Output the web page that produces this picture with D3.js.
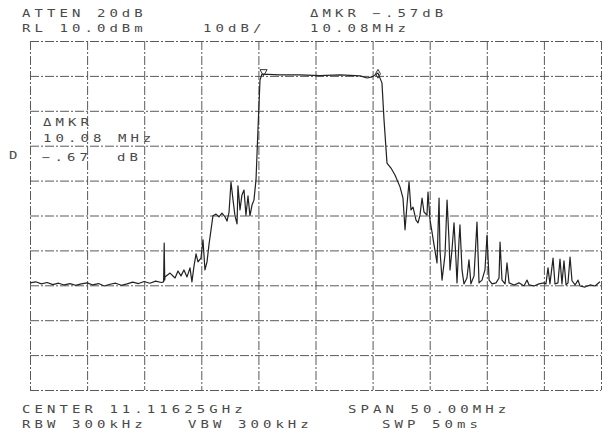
<!DOCTYPE html>
<html>
<head>
<meta charset="utf-8">
<script src="https://cdn.jsdelivr.net/npm/d3@7"></script>
<style>
  body { margin: 0; background: #fff; }
  svg { display: block; }
  .lbl { font-family: "DejaVu Sans Mono", monospace; font-size: 10px; fill: #4a4a4a; letter-spacing: 2.9px; white-space: pre; }
  .grid line { stroke: #5a5a5a; stroke-width: 1; stroke-dasharray: 9 2 2 2; }
</style>
</head>
<body>
<svg width="611" height="439"></svg>
<script>
// spectrum analyzer plot, offset from center freq in MHz vs level in dBm

const freqTicks = [-25, -20, -15, -10, -5, 0, 5, 10, 15, 20, 25];
const levelTicks = [10, 0, -10, -20, -30, -40, -50, -60, -70, -80, -90];

const topText = ["ATTEN 20dB", "ΔMKR −.57dB", "RL 10.0dBm", "10dB/", "10.08MHz"];
const bottomText = ["CENTER 11.11625GHz", "SPAN 50.00MHz", "RBW 300kHz", "VBW 300kHz", "SWP 50ms"];
const mkrText = ["ΔMKR", "10.08 MHz", "−.67  dB"];

// trace
const traceFreq = [
  -25.0, -24.5, -24.0, -23.5, -23.0, -22.5, -22.0, -21.5, -21.0, -20.5, -20.0, -19.5, -19.0, -18.5,
  -18.0, -17.5, -17.0, -16.5, -16.0, -15.5, -15.0, -14.5, -14.0, -13.5, -13.3, -13.25, -13.2,
  -13.18, -12.74, -12.30, -12.04, -11.78, -11.52, -11.25, -10.99, -10.82, -10.64, -10.46, -10.29,
  -10.03, -9.85, -9.68, -9.50, -9.33, -9.15, -8.98, -8.71, -8.45, -8.19, -7.92, -7.75, -7.57,
  -7.40, -7.22, -7.05, -6.87, -6.79, -6.61, -6.44, -6.26, -6.09, -5.91, -5.74, -5.56, -5.39,
  -5.21, -5.04, -4.86, -4.69, -3.11, -1.36, 0.39, 2.15, 3.90, 4.51, 4.95, 5.47, 5.82, 6.00,
  6.26, 6.61, 6.96, 7.40, 7.66, 7.84, 8.01, 8.19, 8.36, 8.54, 8.80, 8.98, 9.15, 9.33, 9.50,
  9.76, 9.85, 10.03, 10.20, 10.38, 10.64, 10.82, 10.90, 11.08, 11.34, 11.52, 11.69, 11.78,
  11.95, 12.13, 12.30, 12.39, 12.57, 12.65, 12.83, 13.00, 13.26, 13.44, 13.61, 13.88, 14.14,
  14.32, 14.58, 14.84, 15.02, 15.20, 15.46, 15.81, 16.07, 16.16, 16.33, 16.60, 16.77, 16.95,
  17.39, 17.82, 18.26, 18.52, 18.70, 19.14, 19.57, 20.01, 20.18, 20.36, 20.53, 20.80, 20.97,
  21.23, 21.41, 21.58, 21.76, 21.94, 22.11, 22.29, 22.46, 22.73, 22.99, 23.16, 23.60, 24.04,
  24.48, 24.91
];
const traceLevel = [
  -59.3, -59.0, -59.6, -59.2, -59.8, -59.4, -59.9, -59.5, -60.0, -59.6, -59.3, -59.9, -59.5, -60.2,
  -59.7, -59.4, -60.0, -59.6, -59.1, -59.5, -58.9, -59.4, -58.8, -59.2, -59.0, -47.9, -58.5,
  -57.6, -56.5, -57.9, -55.9, -57.3, -55.6, -57.6, -55.0, -59.0, -54.5, -51.0, -53.3,
  -52.2, -47.0, -55.6, -53.3, -48.4, -44.1, -40.1, -39.6, -40.4, -39.3, -40.4, -41.6, -39.0,
  -30.4, -35.6, -40.1, -42.4, -31.5, -38.4, -34.1, -32.7, -39.9, -34.4, -40.1, -37.0, -35.6,
  -29.8, -15.5, -1.2, 0.5, 0.3, 0.3, 0.1, 0.3, 0.0, -0.6, -0.3, 0.8, -2.0, -12.6,
  -25.0, -26.4, -28.4, -31.8, -35.0, -44.1, -37.0, -30.4, -38.4, -37.6, -41.3, -42.1, -39.9, -35.0, -39.0,
  -39.9, -33.3, -41.3, -44.7, -48.4, -53.6, -35.0, -49.9, -58.5, -51.3, -35.6, -47.0, -55.6,
  -49.9, -42.1, -52.7, -59.3, -47.0, -42.7, -55.6, -59.6, -57.9, -52.7, -59.6, -57.3, -41.9,
  -59.3, -58.5, -55.6, -45.6, -58.5, -59.6, -59.3, -57.9, -47.6, -58.5, -59.6, -53.6, -59.3,
  -59.9, -59.3, -60.2, -58.5, -59.9, -60.2, -59.6, -59.3, -59.6, -55.0, -59.6, -52.2, -59.6,
  -59.3, -52.5, -59.6, -53.0, -59.9, -59.3, -51.9, -58.7, -59.9, -58.5, -60.2, -60.5, -59.9,
  -60.2, -59.0
];

// markers: reference (triangle) and delta (diamond)
const markerFreq = [-4.55, 5.47];
const markerLevel = [1.2, 0.6];

const svg = d3.select("svg");

const x = d3.scaleLinear().domain([-25, 25]).range([30, 601]);
const y = d3.scaleLinear().domain([-90, 10]).range([390, 41]);

// graticule
svg.append("g").attr("class", "grid")
  .attr("transform", "translate(0," + y(10) + ")")
  .call(d3.axisBottom(x).tickValues(freqTicks).tickSize(y(-90) - y(10)).tickFormat(""));
svg.append("g").attr("class", "grid")
  .attr("transform", "translate(" + x(-25) + ",0)")
  .call(d3.axisRight(y).tickValues(levelTicks).tickSize(x(25) - x(-25)).tickFormat(""));
svg.selectAll(".grid .domain").remove();

// trace
const pts = traceFreq.map((f, i) => [f, traceLevel[i]]);
svg.append("path")
  .datum(pts)
  .attr("fill", "none")
  .attr("stroke", "#222")
  .attr("stroke-width", 1.2)
  .attr("stroke-linejoin", "round")
  .attr("d", d3.line().x(d => x(d[0])).y(d => y(d[1])));

// marker symbols
svg.append("path")
  .attr("d", d3.symbol(d3.symbolTriangle, 22)())
  .attr("transform", "translate(" + x(markerFreq[0]) + "," + y(markerLevel[0]) + ") rotate(180)")
  .attr("fill", "none").attr("stroke", "#333");
svg.append("path")
  .attr("transform", "translate(" + x(markerFreq[1]) + "," + y(markerLevel[1]) + ")")
  .attr("d", d3.symbol(d3.symbolDiamond, 22)())
  .attr("fill", "none").attr("stroke", "#333");

// annotations, plotter letters are wide so stretch them
function label(t, px, py) {
  svg.append("text").attr("class", "lbl")
    .attr("transform", "translate(" + px + "," + py + ") scale(1.4,1)")
    .text(t);
}
label(topText[0], 22, 17);
label(topText[1], 310, 17);
label(topText[2], 22, 32);
label(topText[3], 203, 32);
label(topText[4], 310, 32);

label(bottomText[0], 22, 413);
label(bottomText[1], 348, 413);
label(bottomText[2], 22, 428);
label(bottomText[3], 188, 428);
label(bottomText[4], 382, 428);

label(mkrText[0], 43, 126);
label(mkrText[1], 43, 142);
label(mkrText[2], 42, 161);

label("D", 9, 159);
</script>
</body>
</html>
